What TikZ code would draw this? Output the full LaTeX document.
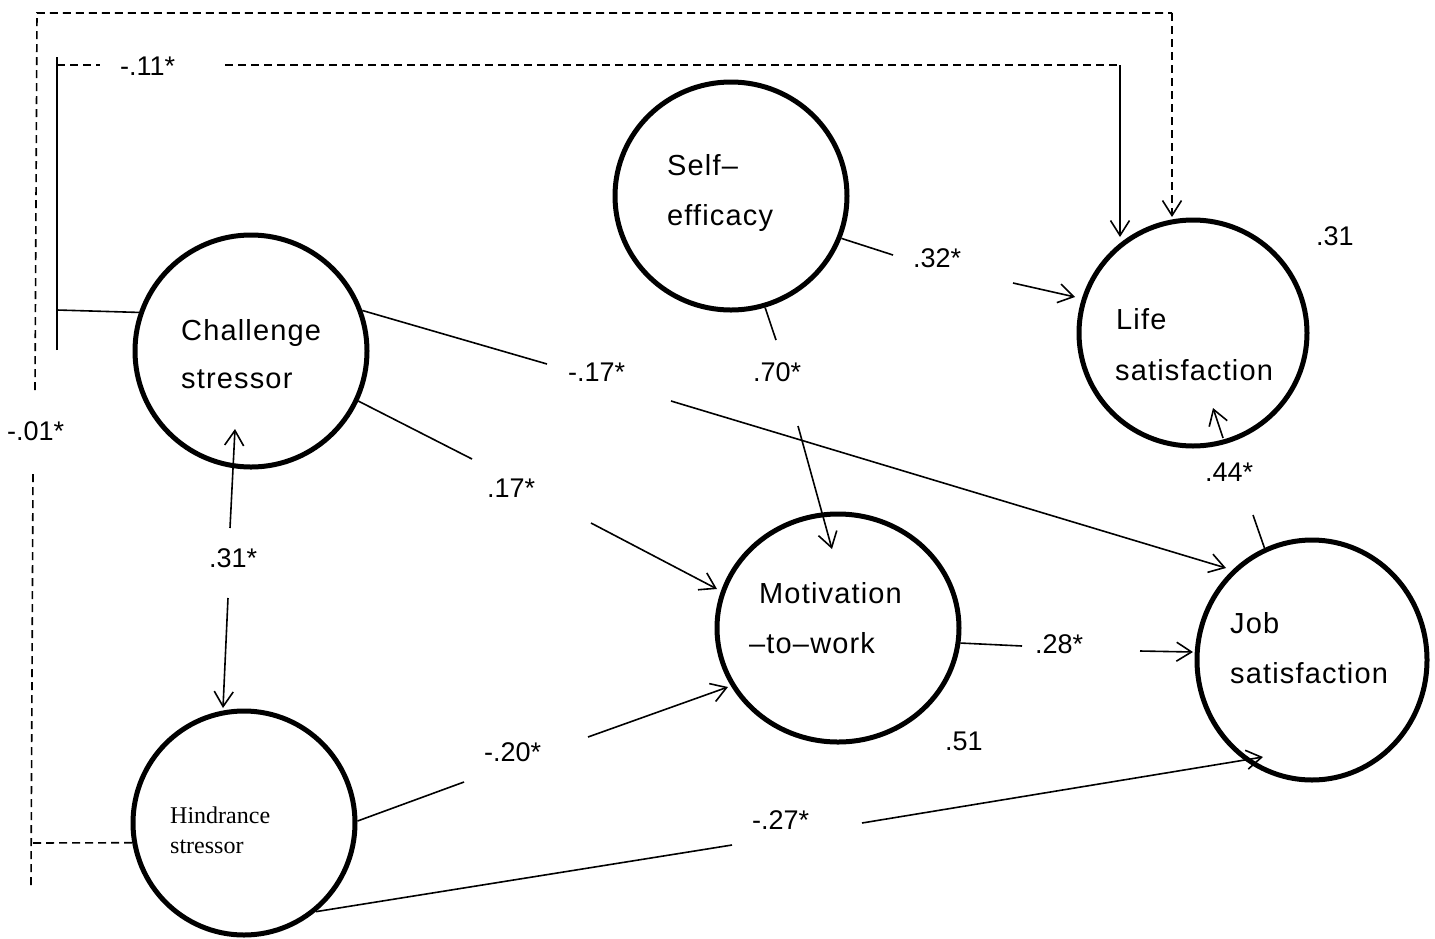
\documentclass[tikz,border=0pt]{standalone}
\usepackage{fontspec}
\setmainfont{Liberation Sans}
\newfontfamily\ctfont[LetterSpace=4]{Liberation Sans}
\newfontfamily\serfont{Liberation Serif}
\usetikzlibrary{arrows.meta,shapes.geometric}
\begin{document}
\begin{tikzpicture}[x=1pt,y=-1pt,
  latent/.style={ellipse,draw,line width=5pt,inner sep=0pt},
  conn/.style={line width=1.6pt},
  arr/.style={conn,-{Straight Barb[length=15pt,width=19pt]}},
  dsh/.style={conn,dash pattern=on 8pt off 5pt},
  ct/.style={anchor=base west,inner sep=0pt,font=\ctfont\fontsize{29}{35}\selectfont},
  ht/.style={anchor=base west,inner sep=0pt,font=\serfont\fontsize{24}{28}\selectfont},
  lab/.style={anchor=base west,inner sep=0pt,font=\fontsize{27}{32}\selectfont}]
\useasboundingbox[fill=white] (0,0) rectangle (1435,938);

% latent variables
\node[latent,minimum width=232pt,minimum height=232pt] (cs) at (251,351) {};
\node[latent,minimum width=232pt,minimum height=228pt] (se) at (731,196) {};
\node[latent,minimum width=228pt,minimum height=226pt] (ls) at (1193,333) {};
\node[latent,minimum width=242pt,minimum height=228pt] (mw) at (838,628) {};
\node[latent,minimum width=230pt,minimum height=240pt] (js) at (1312,660) {};
\node[latent,minimum width=222pt,minimum height=224pt] (hs) at (244,823) {};

% texts in circles
\node[ct] (cs-t1) at (181,340) {Challenge};
\node[ct] (cs-t2) at (181,388) {stressor};
\node[ct] (se-t1) at (667,175) {Self–};
\node[ct] (se-t2) at (667,225) {efficacy};
\node[ct] (ls-t1) at (1116,329) {Life};
\node[ct] (ls-t2) at (1115,380) {satisfaction};
\node[ct] (mw-t1) at (759,603) {Motivation};
\node[ct] (mw-t2) at (749,653) {–to–work};
\node[ct] (js-t1) at (1230,633) {Job};
\node[ct] (js-t2) at (1230,683) {satisfaction};
\node[ht] (hs-t1) at (170,823) {Hindrance};
\node[ht] (hs-t2) at (170,853) {stressor};

% coefficient labels
\node[lab] (l11) at (120,75) {-.11*};
\node[lab] (l01) at (7,440) {-.01*};
\node[lab] (l17a) at (568,381) {-.17*};
\node[lab] (l70) at (753,381) {.70*};
\node[lab] (l17b) at (487,497) {.17*};
\node[lab] (l31) at (209,567) {.31*};
\node[lab] (l20) at (484,761) {-.20*};
\node[lab] (l27) at (752,829) {-.27*};
\node[lab] (l32) at (913,267) {.32*};
\node[lab] (r31) at (1316,245) {.31};
\node[lab] (l44) at (1205,481) {.44*};
\node[lab] (l28) at (1035,653) {.28*};
\node[lab] (r51) at (945,750) {.51};

% named points
\coordinate (t1) at (1172,217);
\coordinate (t2) at (1120,237);
\coordinate (t3) at (1226,568);
\coordinate (t4) at (717,589);
\coordinate (t5) at (235,429);
\coordinate (t6) at (223,708);
\coordinate (t7) at (1075,297);
\coordinate (t8) at (832,549);
\coordinate (t9) at (728,687);
\coordinate (t10) at (1263,757);
\coordinate (t11) at (1193,652);
\coordinate (t12) at (1213,408);

% -.11* path (challenge -> life satisfaction)
\coordinate (b1) at (57,310);
\coordinate (b2) at (57,350);
\coordinate (b3) at (57,57);
\coordinate (b4) at (57,65);
\coordinate (b5) at (100,65);
\coordinate (b6) at (225,65);
\coordinate (b7) at (1120,65);
\draw[conn] (cs.161) -- (b1);
\draw[conn] (b2) -- (b3);
\draw[dsh] (b4) -- (b5);
\draw[dsh] (b6) -- (b7);
\draw[arr] (b7) -- (t2);

% -.01* path (hindrance -> life satisfaction)
\coordinate (d1) at (31,843);
\coordinate (d2) at (31,885);
\coordinate (d3) at (33,474);
\coordinate (d4) at (35,390);
\coordinate (d5) at (37,13);
\coordinate (d6) at (1172,13);
\draw[dsh] (hs.190) -- (d1);
\draw[dsh] (d2) -- (d3);
\draw[dsh] (d4) -- (d5) -- (d6);
\draw[dsh,-{Straight Barb[length=15pt,width=19pt]}] (d6) -- (t1);

% challenge -> job satisfaction
\draw[conn] (cs.20) -- (547,364);
\draw[arr] (671,401) -- (t3);
% challenge -> motivation
\draw[conn] (cs.-25) -- (472,459);
\draw[arr] (591,523) -- (t4);
% challenge <-> hindrance
\draw[arr] (230,528) -- (t5);
\draw[arr] (228,598) -- (t6);
% self-efficacy -> life
\draw[conn] (se.-21) -- (893,255);
\draw[arr] (1013,283) -- (t7);
% self-efficacy -> motivation
\draw[conn] (se.-73) -- (776,340);
\draw[arr] (798,426) -- (t8);
% hindrance -> motivation
\draw[conn] (hs.1.5) -- (464,782);
\draw[arr] (588,737) -- (t9);
% hindrance -> job
\draw[conn] (hs.-51) -- (732,845);
\draw[arr] (862,823) -- (t10);
% motivation -> job
\draw[conn] (mw.-7) -- (1022,646);
\draw[arr] (1140,651) -- (t11);
% job -> life
\draw[conn] (js.113) -- (1253,515);
\draw[arr] (1223,438) -- (t12);
\end{tikzpicture}
\end{document}
